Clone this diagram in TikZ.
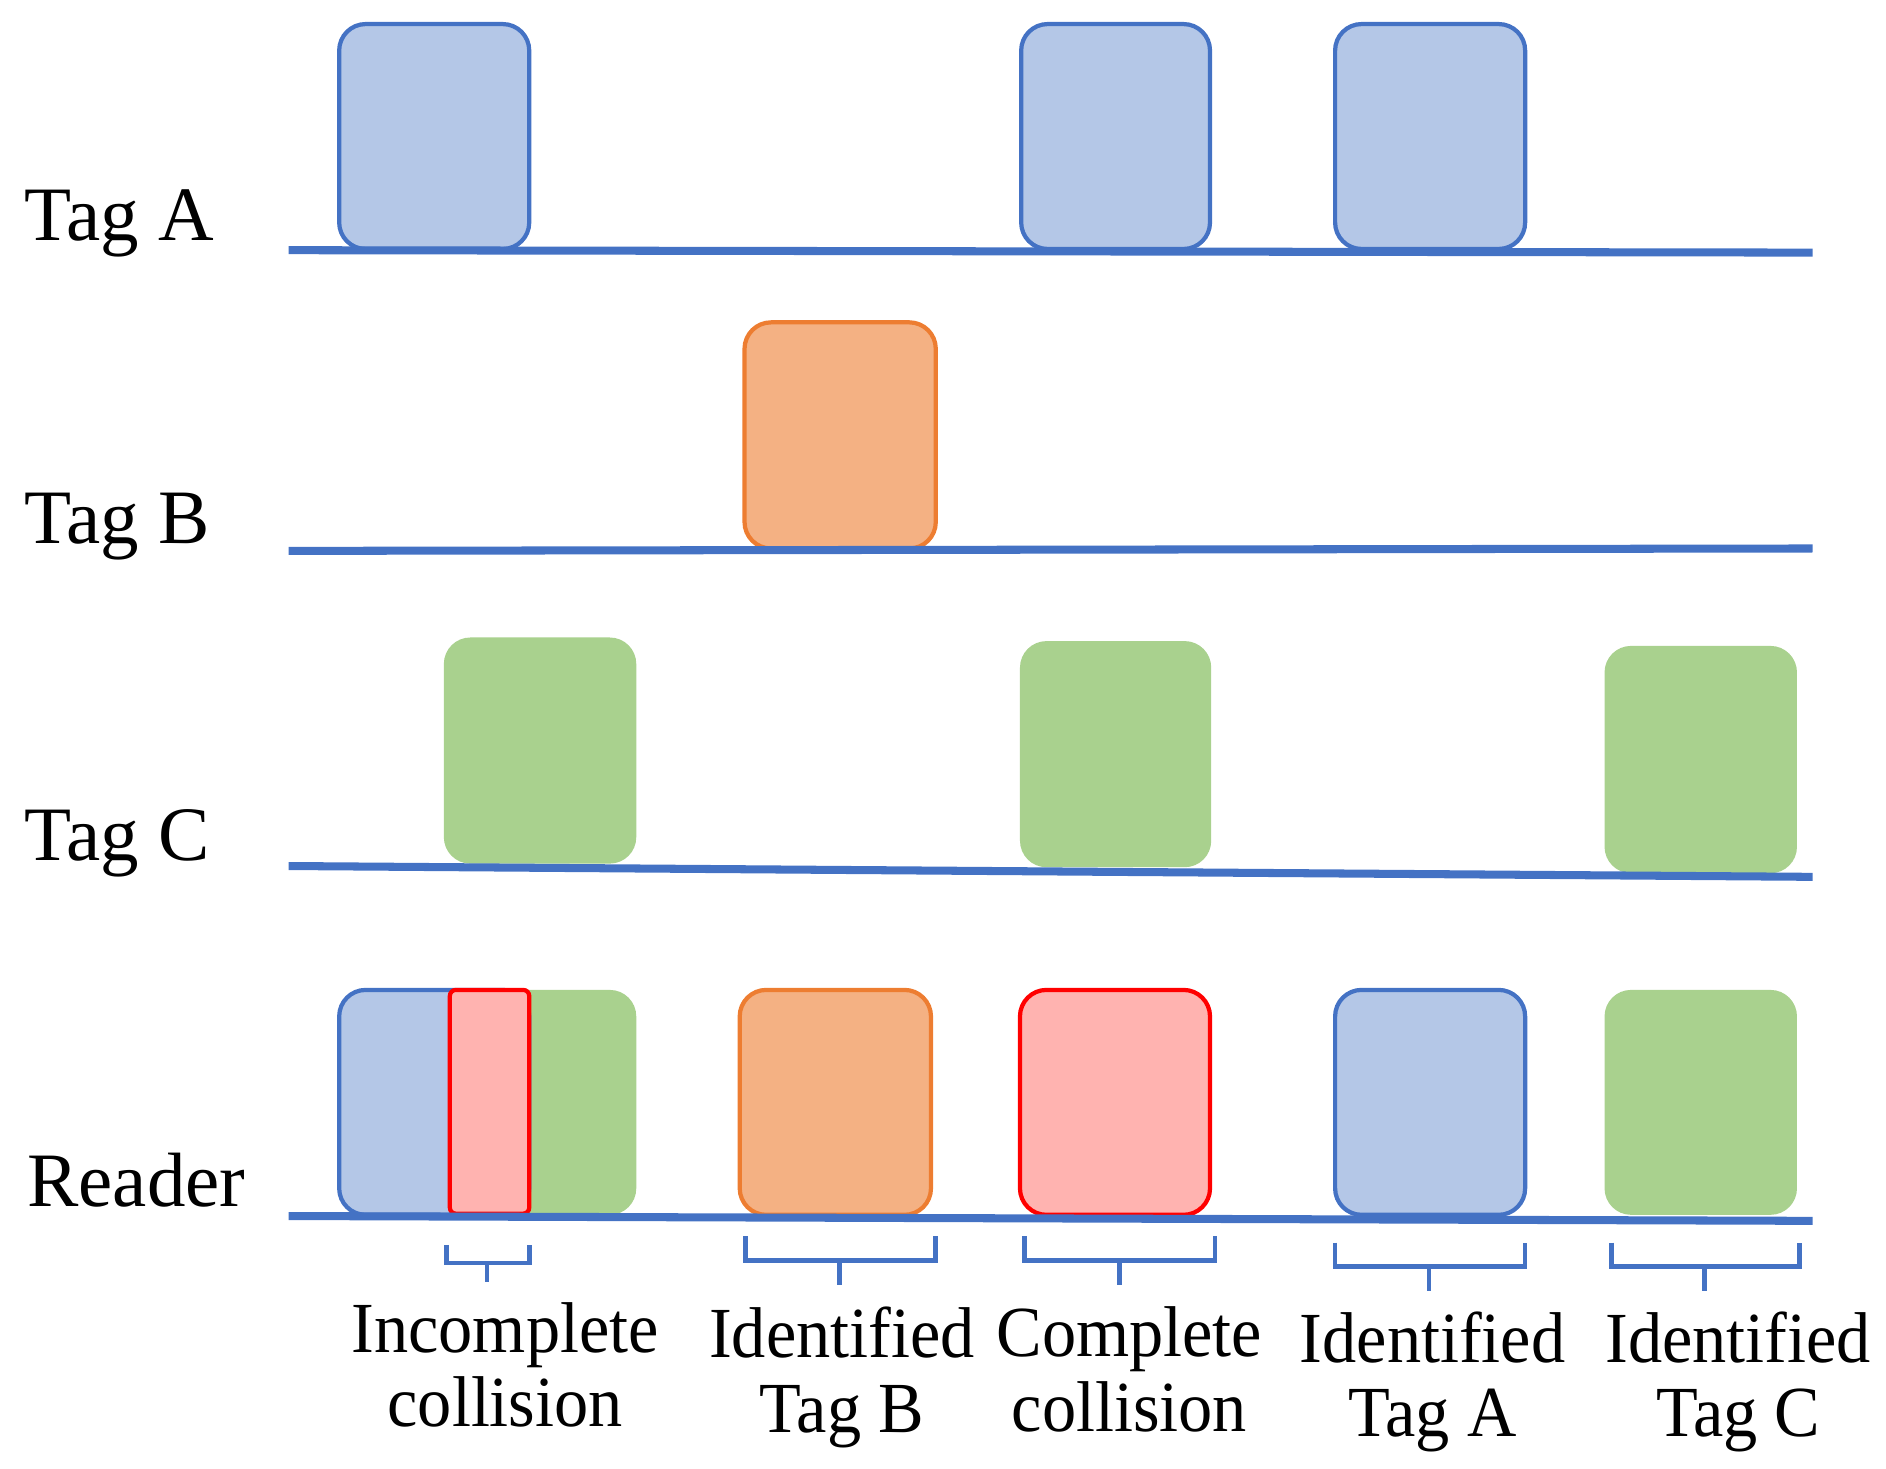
\documentclass[tikz,border=0pt]{standalone}
\usepackage{fontspec}
\setmainfont{Liberation Serif}
\newfontfamily\narrowser{Liberation Serif}[FakeStretch=0.95]
\definecolor{bfill}{HTML}{B4C7E7}
\definecolor{bline}{HTML}{4472C4}
\definecolor{ofill}{HTML}{F4B183}
\definecolor{oline}{HTML}{ED7D31}
\definecolor{gfill}{HTML}{A9D18E}
\definecolor{rfill}{HTML}{FFB3B0}
\definecolor{rline}{HTML}{FF0000}
\begin{document}
\begin{tikzpicture}[x=0.01cm,y=-0.01cm,
  slot/.style={rounded corners=0.22cm, line width=1pt},
  ablk/.style={slot, fill=bfill, draw=bline},
  bblk/.style={slot, fill=ofill, draw=oline},
  cblk/.style={slot, fill=gfill},
  rblk/.style={slot, fill=rfill, draw=rline},
  axis/.style={draw=bline, line width=1.9pt},
  brk/.style={draw=bline, line width=1.1pt},
  rowlbl/.style={anchor=base west, inner sep=0pt, font=\fontsize{18.2}{18}\selectfont},
  evlbl/.style={anchor=north, inner sep=0pt, align=center, font=\narrowser\fontsize{17}{17.6}\selectfont}]
\useasboundingbox (0,0) rectangle (1568,1221);

% Tag A
\draw[ablk] (282,20) rectangle (440,207);
\draw[ablk] (849,20) rectangle (1006,207);
\draw[ablk] (1110,20) rectangle (1268,207);
\coordinate (a0) at (240,208); \coordinate (a1) at (1507,210);
\draw[axis] (a0) -- (a1);
\node[rowlbl] (la) at (20,200) {Tag A};

% Tag B
\draw[bblk] (619,268) rectangle (778,456);
\coordinate (b0) at (240,458); \coordinate (b1) at (1507,456);
\draw[axis] (b0) -- (b1);
\node[rowlbl] (lb) at (20,452) {Tag B};

% Tag C
\fill[cblk] (369,530) rectangle (529,718);
\fill[cblk] (848,533) rectangle (1007,721);
\fill[cblk] (1334,537) rectangle (1494,726);
\coordinate (c0) at (240,720); \coordinate (c1) at (1507,729);
\draw[axis] (c0) -- (c1);
\node[rowlbl] (lc) at (20,715) {Tag C};

% Reader
\fill[cblk] (370,823) rectangle (529,1010);
\draw[ablk] (282,823) rectangle (440,1010);
\draw[rblk, rounded corners=0.05cm] (374,823) rectangle (440,1009);
\draw[bblk] (615,823) rectangle (774,1010);
\draw[rblk] (848,823) rectangle (1006,1010);
\draw[ablk] (1110,823) rectangle (1268,1010);
\fill[cblk] (1334,823) rectangle (1494,1010);
\coordinate (r0) at (240,1011); \coordinate (r1) at (1507,1015);
\draw[axis] (r0) -- (r1);
\node[rowlbl] (lr) at (22,1003) {Reader};

% brackets
\draw[brk] (371,1035) |- (440,1050) -- (440,1035);
\draw[brk] (405,1050) -- (405,1066);
\draw[brk] (620,1028) |- (778,1048) -- (778,1028);
\draw[brk] (698,1048) -- (698,1068);
\draw[brk] (852,1028) |- (1010,1048) -- (1010,1028);
\draw[brk] (931,1048) -- (931,1068);
\draw[brk] (1110,1033) |- (1268,1053) -- (1268,1033);
\draw[brk] (1188,1053) -- (1188,1073);
\draw[brk] (1340,1033) |- (1496,1053) -- (1496,1033);
\draw[brk] (1417,1053) -- (1417,1073);

% event labels
\node[evlbl] (e1) at (420,1082) {Incomplete\\collision};
\node[evlbl] (e2) at (700,1086) {Identified\\Tag B};
\node[evlbl] (e3) at (939,1086) {Complete\\collision};
\node[evlbl] (e4) at (1191,1090) {Identified\\Tag A};
\node[evlbl] (e5) at (1445,1090) {Identified\\Tag C};
\end{tikzpicture}
\end{document}
